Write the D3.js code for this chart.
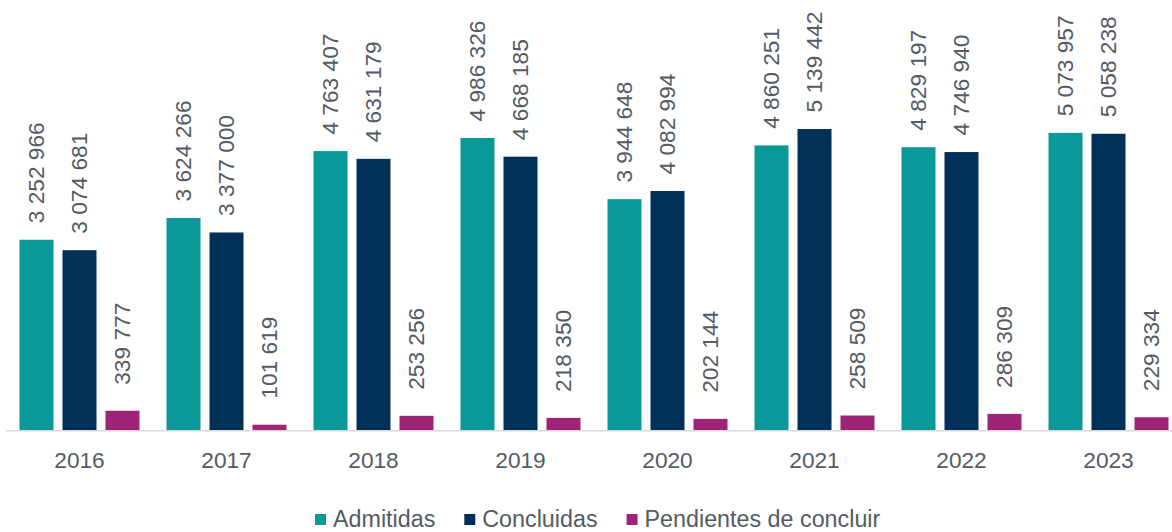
<!DOCTYPE html>
<html lang="es">
<head>
    <meta charset="UTF-8">
    <title>Admitidas, concluidas y pendientes</title>
    <style type="text/css">
        body {
            margin: 0;
            background-color: #fff;
            font-family: 'Liberation Sans', Arial, sans-serif;
        }
        .axis path {
            stroke: #d9d9d9;
            stroke-width: 1.5;
        }
        .axis line {
            display: none;
        }
        .axis text, .label, .legend text {
            fill: #545b64;
            font-size: 22.7px;
        }
        .legend text {
            font-size: 23.3px;
        }
    </style>
</head>
<body>
<div id="chart"></div>
<script src="https://cdn.jsdelivr.net/npm/d3@7"></script>
<script type="text/javascript">
    var years = ["2016", "2017", "2018", "2019", "2020", "2021", "2022", "2023"];
    var seriesNames = ["Admitidas", "Concluidas", "Pendientes de concluir"];
    var admitidas = [3252966, 3624266, 4763407, 4986326, 3944648, 4860251, 4829197, 5073957];
    var concluidas = [3074681, 3377000, 4631179, 4668185, 4082994, 5139442, 4746940, 5058238];
    var pendientes = [339777, 101619, 253256, 218350, 202144, 258509, 286309, 229334];
    var colors = ["#0a9898", "#003057", "#9f2377"];

    var width = 1172, height = 532;
    var baseY = 430.7;

    var data = years.map(function (y, i) {
        return {year: y, values: [admitidas[i], concluidas[i], pendientes[i]]};
    });

    var svg = d3.select("#chart").append("svg")
        .attr("width", width)
        .attr("height", height);

    var x0 = d3.scaleBand()
        .domain(years)
        .range([6, 1182])
        .paddingInner(0)
        .paddingOuter(0);

    var x1 = d3.scaleBand()
        .domain(d3.range(3))
        .range([0, x0.bandwidth()])
        .paddingInner(9 / 43)
        .paddingOuter(0.314);

    var y = d3.scaleLinear()
        .domain([0, 6000000])
        .range([baseY, baseY - 6 * 58.7]);

    var fmt = d3.formatLocale({decimal: ",", thousands: " ", grouping: [3], currency: ["", ""]}).format(",d");

    var groups = svg.selectAll(".year")
        .data(data)
        .enter().append("g")
        .attr("class", "year")
        .attr("transform", function (d) { return "translate(" + x0(d.year) + ",0)"; });

    groups.selectAll("rect")
        .data(function (d) { return d.values; })
        .enter().append("rect")
        .attr("x", function (d, i) { return x1(i); })
        .attr("y", function (d) { return y(d); })
        .attr("width", x1.bandwidth())
        .attr("height", function (d) { return baseY - y(d); })
        .attr("fill", function (d, i) { return colors[i]; });

    // rotated value labels, centred a fixed distance above each bar
    groups.selectAll(".label")
        .data(function (d) { return d.values; })
        .enter().append("text")
        .attr("class", "label")
        .attr("text-anchor", "middle")
        .attr("dy", "0.35em")
        .attr("transform", function (d, i) {
            return "translate(" + (x1(i) + x1.bandwidth() / 2) + "," + (y(d) - 67) + ") rotate(-90)";
        })
        .text(function (d) { return fmt(d); });

    svg.append("g")
        .attr("class", "axis")
        .attr("transform", "translate(0," + baseY + ")")
        .call(d3.axisBottom(x0).tickSize(0).tickSizeOuter(0).tickPadding(21))
        .call(function (g) { g.select(".domain").attr("d", "M6,0H1172"); })
        .selectAll("text")
        .attr("font-family", null)
        .attr("font-size", null);

    // legend
    var legend = svg.append("g").attr("class", "legend");
    var lx = 315;
    seriesNames.forEach(function (name, i) {
        legend.append("rect")
            .attr("x", lx)
            .attr("y", 514)
            .attr("width", 11)
            .attr("height", 11)
            .attr("fill", colors[i]);
        var t = legend.append("text")
            .attr("x", lx + 18)
            .attr("y", 527)
            .text(name);
        lx += 18 + t.node().getComputedTextLength() + 29;
    });
</script>
</body>
</html>
